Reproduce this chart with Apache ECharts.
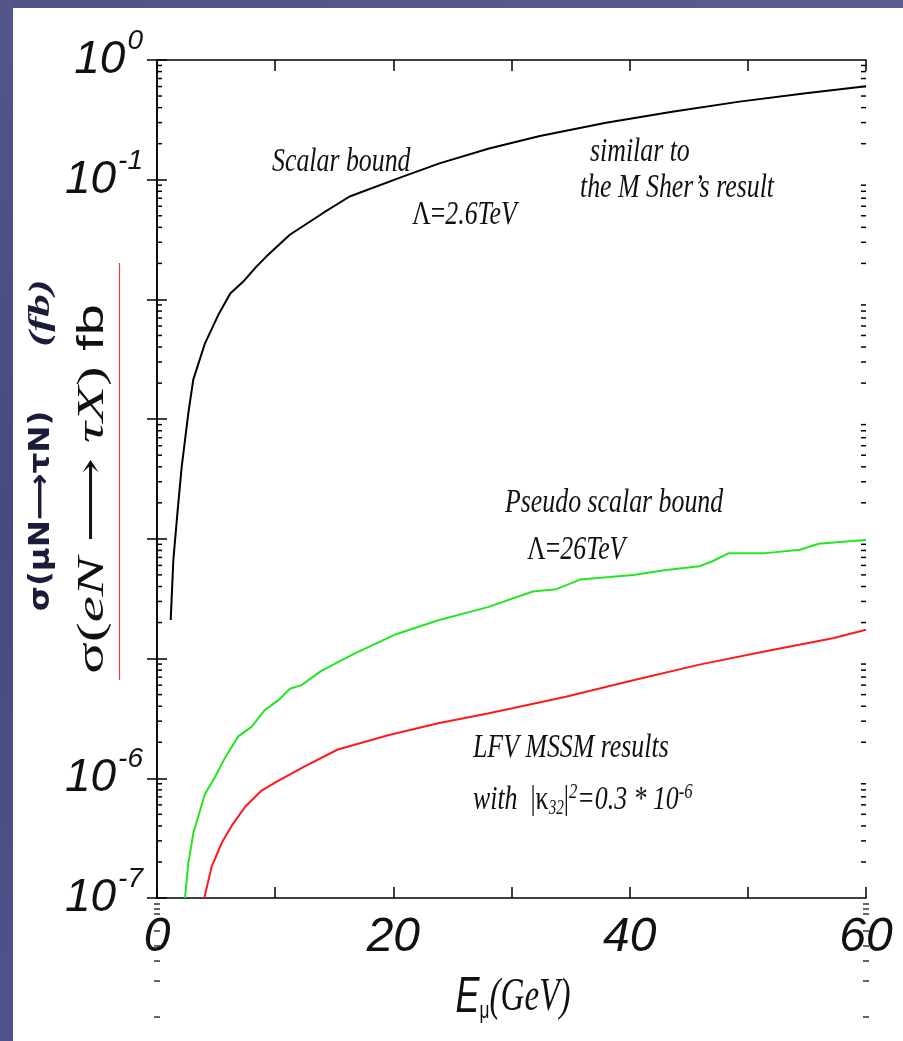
<!DOCTYPE html>
<html>
<head>
<meta charset="utf-8">
<script src="https://cdn.jsdelivr.net/npm/echarts@6/dist/echarts.min.js"></script>
<style>
html, body { margin: 0; padding: 0; background: #ffffff; }
#chart { width: 903px; height: 1041px; }
</style>
</head>
<body>
<div id="chart"></div>
<script>
// Scalar bound, Λ = 2.6 TeV  (E_mu in GeV, cross section in fb)
const scalarE = [1.16, 1.38, 1.75, 2.09, 2.65, 3.07, 4.06, 5.18, 6.2, 7.3, 8.28, 9.27, 11.24, 14.03, 16.3, 20.8, 23.9, 28.1, 32.4, 38.0, 43.6, 49.3, 54.9, 60];
const scalarSigma = [2.1e-5, 6.6e-5, 1.74e-4, 4.0e-4, 1.12e-3, 2.14e-3, 4.3e-3, 7.4e-3, 1.12e-2, 1.41e-2, 1.82e-2, 2.29e-2, 3.47e-2, 5.25e-2, 7.24e-2, 0.106, 0.137, 0.182, 0.232, 0.299, 0.370, 0.449, 0.527, 0.603];

// Pseudo scalar bound, Λ = 26 TeV
const pseudoE = [2.37, 2.65, 3.07, 4.06, 4.9, 5.75, 6.87, 8.0, 9.13, 10.25, 11.24, 12.23, 13.9, 16.7, 20.1, 23.8, 28.0, 31.8, 33.8, 35.8, 38.3, 40.3, 43.1, 45.9, 47.0, 48.4, 51.5, 54.4, 56.0, 58.3, 60];
const pseudoSigma = [1.0e-7, 1.95e-7, 3.47e-7, 7.4e-7, 1.02e-6, 1.48e-6, 2.24e-6, 2.69e-6, 3.72e-6, 4.47e-6, 5.6e-6, 6.0e-6, 7.9e-6, 1.10e-5, 1.58e-5, 2.09e-5, 2.69e-5, 3.63e-5, 3.8e-5, 4.57e-5, 4.8e-5, 5.0e-5, 5.5e-5, 5.9e-5, 6.5e-5, 7.6e-5, 7.6e-5, 8.1e-5, 9.1e-5, 9.5e-5, 9.8e-5];

// LFV MSSM results, |κ32|² = 0.3·10⁻⁶
const mssmE = [4.0, 4.62, 5.47, 6.31, 7.44, 8.85, 10.25, 12.5, 15.3, 19.55, 23.8, 28.0, 34.6, 40.3, 45.9, 51.5, 57.2, 60];
const mssmSigma = [1.0e-7, 1.82e-7, 2.88e-7, 4.0e-7, 5.75e-7, 7.9e-7, 9.5e-7, 1.26e-6, 1.74e-6, 2.29e-6, 2.88e-6, 3.47e-6, 4.8e-6, 6.6e-6, 8.9e-6, 1.15e-5, 1.48e-5, 1.74e-5];

// Axis ranges and labelled ticks
const xMin = 0, xMax = 60, xStep = 10;
const xLabelled = [0, 20, 40, 60];
const yMin = 1e-7, yMax = 1;
const yLabelledExp = [0, -1, -6, -7];

// 2..9 × 10^k positions for the logarithmic minor ticks
const minorTicks = [];
for (let k = -7; k < 0; k++) {
  for (let m = 2; m <= 9; m++) minorTicks.push(m * Math.pow(10, k));
}

const pair = (xs, ys) => xs.map((x, i) => [x, ys[i]]);

const sans = "'Liberation Sans', Arial, sans-serif";
const serif = "'Liberation Serif', 'DejaVu Serif', serif";
const ink = '#111111';

const chart = echarts.init(document.getElementById('chart'), null, { renderer: 'canvas' });

const axisLineStyle = { color: '#000', width: 1.5 };

function annotation(x, y, rich, text) {
  return {
    type: 'text', x: x, y: y, scaleX: 0.76, z: 50,
    style: {
      text: text, rich: rich,
      fontFamily: serif, fontStyle: 'italic', fontSize: 34, fill: ink,
      align: 'left', verticalAlign: 'middle', textAlign: 'left', textVerticalAlign: 'middle'
    }
  };
}
const annRich = {
  u: { fontFamily: serif, fontStyle: 'normal', fontSize: 34, fill: ink },
  i: { fontFamily: serif, fontStyle: 'italic', fontSize: 34, fill: ink },
  sub: { fontFamily: serif, fontStyle: 'italic', fontSize: 20, fill: ink, verticalAlign: 'bottom', padding: [14, 0, 0, 0] },
  sup: { fontFamily: serif, fontStyle: 'italic', fontSize: 22, fill: ink, verticalAlign: 'top', padding: [0, 0, 16, 0] }
};

// Small marks under the frame corners
const cornerDashes = [];
[904, 909, 914, 931, 946, 961, 981, 1017].forEach(function (yy) {
  cornerDashes.push({ type: 'line', shape: { x1: 154, y1: yy, x2: 160, y2: yy }, style: { stroke: '#333', lineWidth: 1.5 } });
  cornerDashes.push({ type: 'line', shape: { x1: 863, y1: yy, x2: 869, y2: yy }, style: { stroke: '#333', lineWidth: 1.5 } });
});

const option = {
  backgroundColor: '#ffffff',
  animation: false,
  grid: { left: 157, right: 37, top: 60, bottom: 143, containLabel: false },
  xAxis: [
    {
      type: 'value', min: xMin, max: xMax, interval: xStep, position: 'bottom',
      axisLine: { show: true, lineStyle: axisLineStyle },
      axisTick: { show: true, inside: true, length: 11, lineStyle: axisLineStyle },
      splitLine: { show: false },
      axisLabel: {
        margin: 16, fontFamily: sans, fontStyle: 'italic', fontSize: 48, color: ink,
        formatter: function (v) { return xLabelled.indexOf(v) >= 0 ? String(v) : ''; }
      }
    },
    {
      type: 'value', min: xMin, max: xMax, interval: xStep, position: 'top',
      axisLine: { show: true, lineStyle: axisLineStyle },
      axisTick: { show: true, inside: true, length: 11, lineStyle: axisLineStyle },
      splitLine: { show: false }, axisLabel: { show: false }
    }
  ],
  yAxis: [
    {
      type: 'log', logBase: 10, min: yMin, max: yMax, interval: 1, position: 'left',
      axisLine: { show: true, lineStyle: axisLineStyle },
      axisTick: { show: true, inside: true, length: 10, lineStyle: axisLineStyle },
      splitLine: { show: false },
      axisLabel: {
        margin: 14,
        formatter: function (v) {
          const e = Math.round(Math.log10(v));
          if (yLabelledExp.indexOf(e) < 0) return '';
          return '{b|10}{s|' + e + '}';
        },
        rich: {
          b: { fontFamily: sans, fontStyle: 'italic', fontSize: 46, color: ink, lineHeight: 66 },
          s: { fontFamily: sans, fontStyle: 'italic', fontSize: 28, color: ink, verticalAlign: 'top', lineHeight: 28, padding: [0, 0, 0, 2] }
        }
      }
    },
    {
      type: 'log', logBase: 10, min: yMin, max: yMax, interval: 1, position: 'right',
      axisLine: { show: true, lineStyle: axisLineStyle },
      axisTick: { show: true, inside: true, length: 10, lineStyle: axisLineStyle },
      splitLine: { show: false }, axisLabel: { show: false }
    }
  ],
  series: [
    {
      name: 'minor ticks', type: 'custom', xAxisIndex: 0, yAxisIndex: 0, silent: true, clip: false, z: 3,
      data: minorTicks.map(function (v) { return [xMin, v]; }),
      renderItem: function (params, api) {
        const v = api.value(1);
        const l = api.coord([xMin, v]);
        const r = api.coord([xMax, v]);
        return {
          type: 'group', children: [
            { type: 'line', shape: { x1: l[0], y1: l[1], x2: l[0] + 5, y2: l[1] }, style: { stroke: '#000', lineWidth: 1.5 } },
            { type: 'line', shape: { x1: r[0] - 5, y1: r[1], x2: r[0], y2: r[1] }, style: { stroke: '#000', lineWidth: 1.5 } }
          ]
        };
      }
    },
    {
      name: 'Scalar bound', type: 'line', data: pair(scalarE, scalarSigma),
      showSymbol: false, smooth: false, lineStyle: { color: '#000000', width: 2 }, z: 5
    },
    {
      name: 'Pseudo scalar bound', type: 'line', data: pair(pseudoE, pseudoSigma),
      showSymbol: false, smooth: false, lineStyle: { color: '#22e622', width: 2 }, z: 5
    },
    {
      name: 'LFV MSSM results', type: 'line', data: pair(mssmE, mssmSigma),
      showSymbol: false, smooth: false, lineStyle: { color: '#ff1a1a', width: 2 }, z: 5
    }
  ],
  graphic: [
    // slide frame strips
    { type: 'rect', shape: { x: 0, y: 0, width: 903, height: 8 }, z: 0,
      style: { fill: new echarts.graphic.LinearGradient(0, 0, 1, 0, [{ offset: 0, color: '#4f5283' }, { offset: 1, color: '#5a5d8e' }]) } },
    { type: 'rect', shape: { x: 0, y: 0, width: 13, height: 1041 }, z: 0,
      style: { fill: new echarts.graphic.LinearGradient(0, 0, 0, 1, [{ offset: 0, color: '#53568a' }, { offset: 0.5, color: '#474a7c' }, { offset: 1, color: '#50538a' }]) } },

    // y-axis titles
    {
      type: 'text', x: 41, y: 511, rotation: Math.PI / 2, scaleX: 1.12, z: 50,
      style: { text: 'σ(μN⟶τN)', fontFamily: "'DejaVu Sans', sans-serif", fontWeight: 'bold', fontSize: 29, fill: '#1b1b3a',
        align: 'center', verticalAlign: 'middle', textAlign: 'center', textVerticalAlign: 'middle' }
    },
    {
      type: 'text', x: 41, y: 313, rotation: Math.PI / 2, scaleX: 1.5, z: 50,
      style: { text: '(fb)', fontFamily: serif, fontWeight: 'bold', fontStyle: 'italic', fontSize: 30, fill: '#1b1b3a',
        align: 'center', verticalAlign: 'middle', textAlign: 'center', textVerticalAlign: 'middle' }
    },
    {
      type: 'text', x: 93, y: 489, rotation: Math.PI / 2, scaleX: 1.55, z: 50,
      style: {
        text: '{m|σ(}{i|eN}{m| ⟶ }{i|τX}{m|)}{f| fb}',
        rich: {
          m: { fontFamily: serif, fontSize: 38, fill: '#111' },
          i: { fontFamily: serif, fontStyle: 'italic', fontSize: 38, fill: '#111' },
          f: { fontFamily: sans, fontSize: 36, fill: '#111' }
        },
        align: 'center', verticalAlign: 'middle', textAlign: 'center', textVerticalAlign: 'middle'
      }
    },
    { type: 'line', z: 50, shape: { x1: 119.5, y1: 263, x2: 119.5, y2: 680 }, style: { stroke: '#e23b3b', lineWidth: 1.2 } },

    // x-axis title
    {
      type: 'text', x: 513, y: 998, scaleX: 0.72, z: 50,
      style: {
        text: '{e|E}{mu|μ}{g|(GeV)}',
        rich: {
          e: { fontFamily: sans, fontStyle: 'italic', fontSize: 50, fill: ink },
          mu: { fontFamily: sans, fontSize: 24, fill: ink, verticalAlign: 'bottom', padding: [20, 0, 0, 0] },
          g: { fontFamily: serif, fontStyle: 'italic', fontSize: 46, fill: ink }
        },
        align: 'center', verticalAlign: 'middle', textAlign: 'center', textVerticalAlign: 'middle'
      }
    },

    // curve annotations
    annotation(272, 162, annRich, 'Scalar bound'),
    annotation(412, 215, annRich, '{u|Λ=}{i|2.6TeV}'),
    annotation(590, 152, annRich, 'similar to'),
    annotation(580, 188, annRich, 'the M Sher’s result'),
    annotation(505, 503, annRich, 'Pseudo scalar bound'),
    annotation(527, 550, annRich, '{u|Λ=}{i|26TeV}'),
    annotation(473, 748, annRich, 'LFV MSSM results'),
    annotation(473, 800, annRich, '{i|with  }{u||κ}{sub|32}{u||}{sup|2}{i|=0.3 * 10}{sup|-6}')
  ].concat(cornerDashes)
};

chart.setOption(option);
</script>
</body>
</html>
